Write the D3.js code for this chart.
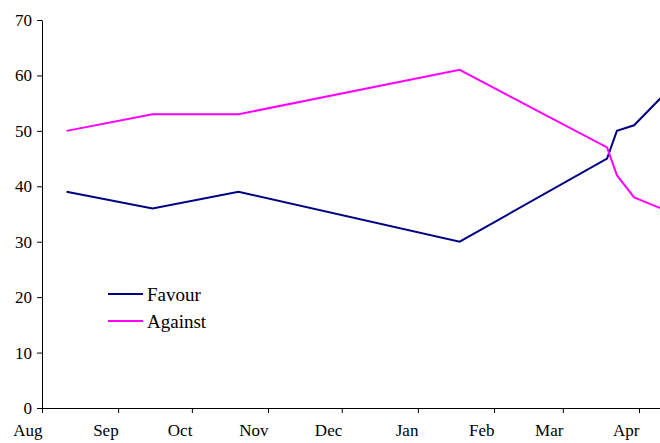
<!DOCTYPE html>
<html>
<head>
<meta charset="utf-8">
<script src="https://cdn.jsdelivr.net/npm/d3@7.9.0/dist/d3.min.js"></script>
<style>
  html, body { margin: 0; padding: 0; background: #fff; }
  svg { display: block; }
  svg text { font-family: 'Liberation Serif', 'Times New Roman', serif; }
</style>
</head>
<body>
<svg id="chart"></svg>
<script>
// poll dates and values
const dates = ['2004-08-11', '2004-09-15', '2004-10-20', '2005-01-18', '2005-03-19', '2005-03-23', '2005-03-30', '2005-04-10'];
const favour = [39, 36, 39, 30, 45, 50, 51, 56];
const against = [50, 53, 53, 61, 47, 42, 38, 36];
const monthTicks = ['2004-08-01', '2004-09-01', '2004-10-01', '2004-11-01', '2004-12-01', '2005-01-01', '2005-02-01', '2005-03-01', '2005-04-01'];
const yTicks = [0, 10, 20, 30, 40, 50, 60, 70];

const width = 660;
const height = 443;
const margin = { top: 20, right: 0, bottom: 35, left: 42 };

const parse = d3.timeParse('%Y-%m-%d');

const svg = d3.select('#chart').attr('width', width).attr('height', height);

// Aug 1 -> 42px, Apr 1 -> 639px in the reference
const x = d3
  .scaleTime()
  .domain([parse('2004-08-01'), parse('2005-04-01')])
  .range([margin.left, 639]);

const y = d3
  .scaleLinear()
  .domain([0, 70])
  .range([height - margin.bottom, margin.top]);

const y0 = y(0);

// y axis
const yAxis = svg
  .append('g')
  .attr('transform', `translate(${margin.left},0)`)
  .call(d3.axisLeft(y).tickValues(yTicks).tickSize(5).tickSizeOuter(0).tickPadding(5));

yAxis.attr('font-family', null).attr('font-size', null);
yAxis.selectAll('text').style('font-size', '17px').attr('fill', '#000');
yAxis.selectAll('line, path').attr('stroke', '#000');

// x axis
const xAxis = svg
  .append('g')
  .attr('transform', `translate(0,${y0})`)
  .call(
    d3
      .axisBottom(x)
      .tickValues(monthTicks.map(parse))
      .tickFormat(d3.timeFormat('%b'))
      .tickSize(5)
      .tickSizeOuter(0)
  );

xAxis.attr('font-family', null).attr('font-size', null);
xAxis.select('.domain').attr('d', `M${margin.left},0.5H${width}`).attr('stroke', '#000');
xAxis.selectAll('line').attr('stroke', '#000');
xAxis
  .selectAll('text')
  .style('font-size', '17px')
  .attr('fill', '#000')
  .attr('text-anchor', 'end')
  .attr('y', 16);

// series lines
const line = d3
  .line()
  .x((d) => x(d[0]))
  .y((d) => y(d[1]));

const series = [
  { name: 'Favour', color: '#000080', values: favour },
  { name: 'Against', color: '#ff00ff', values: against },
];

series.forEach((s) => {
  svg
    .append('path')
    .datum(dates.map((d, i) => [parse(d), s.values[i]]))
    .attr('fill', 'none')
    .attr('stroke', s.color)
    .attr('stroke-width', 2)
    .attr('d', line);
});

// legend
const legend = svg.append('g').attr('transform', 'translate(108,294)');

series.forEach((s, i) => {
  const g = legend.append('g').attr('transform', `translate(0,${i * 27})`);
  g.append('line')
    .attr('x1', 0)
    .attr('x2', 35)
    .attr('y1', 0)
    .attr('y2', 0)
    .attr('stroke', s.color)
    .attr('stroke-width', 2);
  g.append('text')
    .attr('x', 39)
    .attr('y', 6.5)
    .style('font-size', '19px')
    .text(s.name);
});
</script>
</body>
</html>
